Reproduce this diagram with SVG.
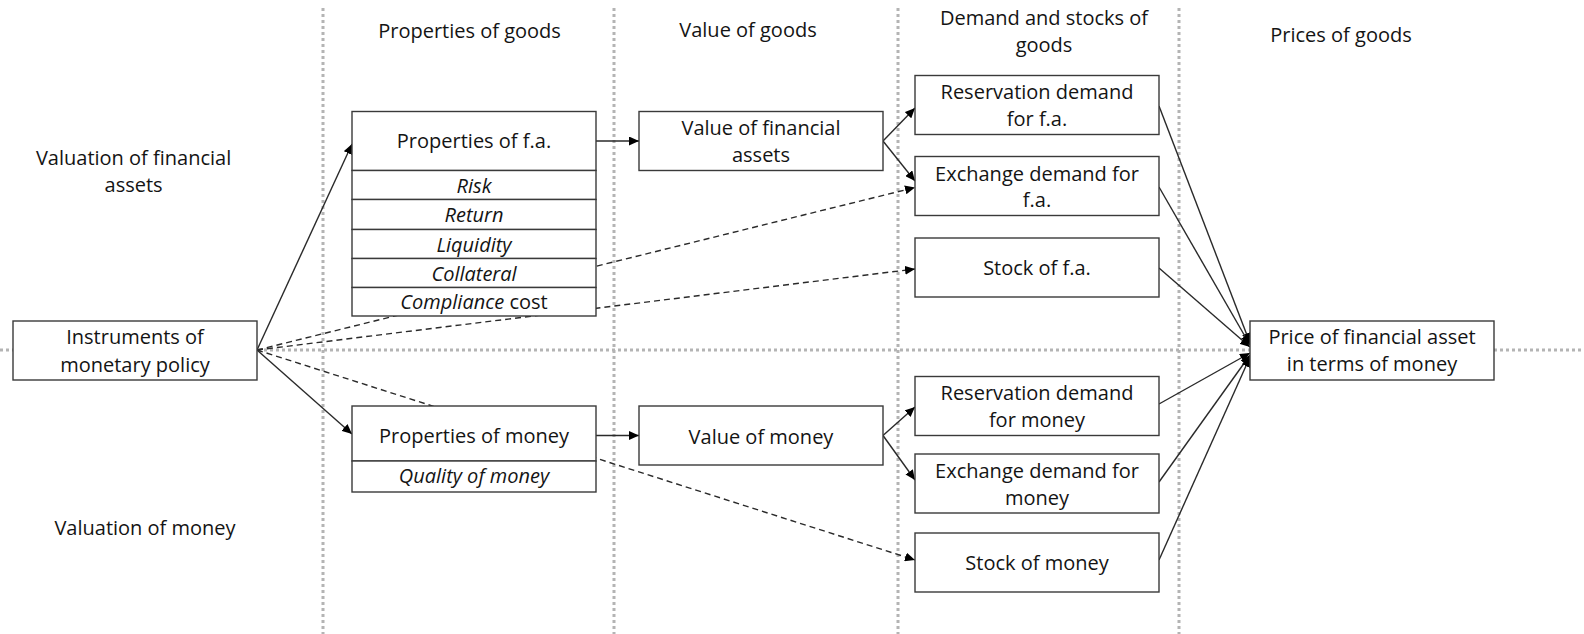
<svg xmlns="http://www.w3.org/2000/svg" width="1584" height="634" viewBox="0 0 1584 634">
<style>
.grid{stroke:#b4b4b4;stroke-width:3;stroke-dasharray:3 3;fill:none}
.box{fill:#ffffff;stroke:#3a3a3a;stroke-width:1.4}
.t{font-family:"Open Sans","Liberation Sans",sans-serif;font-size:20px;fill:#141414;text-anchor:middle}
.i{font-style:italic}
.c{stroke:#2a2a2a;stroke-width:1.4;fill:none;marker-end:url(#ah)}
.d{stroke-dasharray:6 4}
</style>
<defs>
<marker id="ah" markerUnits="userSpaceOnUse" markerWidth="11" markerHeight="9" refX="10" refY="4.5" orient="auto">
<path d="M0,0 L10,4.5 L0,9 z" fill="#000"/>
</marker>
</defs>
<rect width="1584" height="634" fill="#ffffff"/>
<g id="grid">
<line class="grid" x1="323" y1="8" x2="323" y2="634"/>
<line class="grid" x1="614" y1="8" x2="614" y2="634"/>
<line class="grid" x1="898" y1="8" x2="898" y2="634"/>
<line class="grid" x1="1179" y1="8" x2="1179" y2="634"/>
<line class="grid" x1="0" y1="350" x2="1584" y2="350"/>
</g>
<g id="labels">
<text class="t" x="469.5" y="38">Properties of goods</text>
<text class="t" x="748" y="37">Value of goods</text>
<text class="t" x="1044" y="25">Demand and stocks of</text>
<text class="t" x="1044" y="51.7">goods</text>
<text class="t" x="1341" y="41.7">Prices of goods</text>
<text class="t" x="133.6" y="165">Valuation of financial</text>
<text class="t" x="133.6" y="191.7">assets</text>
<text class="t" x="145" y="535">Valuation of money</text>
</g>
<g id="connectors">
<line class="c" x1="257" y1="350" x2="352" y2="144"/>
<line class="c" x1="257" y1="350" x2="352" y2="434"/>
<line class="c" x1="596" y1="141" x2="639" y2="141"/>
<line class="c" x1="596" y1="435.5" x2="639" y2="435.5"/>
<line class="c" x1="883" y1="141" x2="915" y2="108"/>
<line class="c" x1="883" y1="141" x2="915" y2="181"/>
<line class="c" x1="883" y1="435.5" x2="915" y2="407"/>
<line class="c" x1="883" y1="435.5" x2="915" y2="480"/>
<line class="c" x1="1159" y1="106" x2="1250" y2="343"/>
<line class="c" x1="1159" y1="187" x2="1250" y2="345"/>
<line class="c" x1="1159" y1="268" x2="1250" y2="347"/>
<line class="c" x1="1159" y1="404" x2="1250" y2="353"/>
<line class="c" x1="1159" y1="482" x2="1250" y2="355"/>
<line class="c" x1="1159" y1="560" x2="1250" y2="357"/>
<line class="c d" x1="257" y1="350" x2="915" y2="187.5"/>
<line class="c d" x1="257" y1="350" x2="915" y2="269"/>
<line class="c d" x1="257" y1="350" x2="915" y2="560"/>
</g>
<g id="instruments">
<rect class="box" x="13" y="321" width="244" height="59"/>
<text class="t" x="135" y="344">Instruments of</text>
<text class="t" x="135" y="371.5">monetary policy</text>
</g>
<g id="properties-fa">
<rect class="box" x="352" y="111.5" width="244" height="59"/>
<text class="t" x="474" y="148">Properties of f.a.</text>
<rect class="box" x="352" y="170.5" width="244" height="29"/>
<text class="t i" x="474" y="192.5">Risk</text>
<rect class="box" x="352" y="199.5" width="244" height="30"/>
<text class="t i" x="474" y="222">Return</text>
<rect class="box" x="352" y="229.5" width="244" height="29"/>
<text class="t i" x="474" y="251.5">Liquidity</text>
<rect class="box" x="352" y="258.5" width="244" height="29"/>
<text class="t i" x="474" y="280.5">Collateral</text>
<rect class="box" x="352" y="287.5" width="244" height="28.5"/>
<text class="t" x="474" y="309"><tspan class="i">Compliance</tspan> cost</text>
</g>
<g id="properties-money">
<rect class="box" x="352" y="406" width="244" height="55"/>
<text class="t" x="474" y="443">Properties of money</text>
<rect class="box" x="352" y="461" width="244" height="31"/>
<text class="t i" x="474" y="483">Quality of money</text>
</g>
<g id="value-fa">
<rect class="box" x="639" y="111.5" width="244" height="59"/>
<text class="t" x="761" y="135">Value of financial</text>
<text class="t" x="761" y="161.7">assets</text>
</g>
<g id="value-money">
<rect class="box" x="639" y="406" width="244" height="59"/>
<text class="t" x="761" y="443.5">Value of money</text>
</g>
<g id="reservation-fa">
<rect class="box" x="915" y="75.5" width="244" height="59"/>
<text class="t" x="1037" y="99.3">Reservation demand</text>
<text class="t" x="1037" y="126">for f.a.</text>
</g>
<g id="exchange-fa">
<rect class="box" x="915" y="156.5" width="244" height="59"/>
<text class="t" x="1037" y="181">Exchange demand for</text>
<text class="t" x="1037" y="207">f.a.</text>
</g>
<g id="stock-fa">
<rect class="box" x="915" y="238" width="244" height="59"/>
<text class="t" x="1037" y="275">Stock of f.a.</text>
</g>
<g id="reservation-money">
<rect class="box" x="915" y="376.5" width="244" height="59"/>
<text class="t" x="1037" y="400">Reservation demand</text>
<text class="t" x="1037" y="427">for money</text>
</g>
<g id="exchange-money">
<rect class="box" x="915" y="454" width="244" height="59"/>
<text class="t" x="1037" y="478">Exchange demand for</text>
<text class="t" x="1037" y="505">money</text>
</g>
<g id="stock-money">
<rect class="box" x="915" y="533" width="244" height="59"/>
<text class="t" x="1037" y="569.5">Stock of money</text>
</g>
<g id="price">
<rect class="box" x="1250" y="321" width="244" height="59"/>
<text class="t" x="1372" y="344.3">Price of financial asset</text>
<text class="t" x="1372" y="371">in terms of money</text>
</g>
</svg>
